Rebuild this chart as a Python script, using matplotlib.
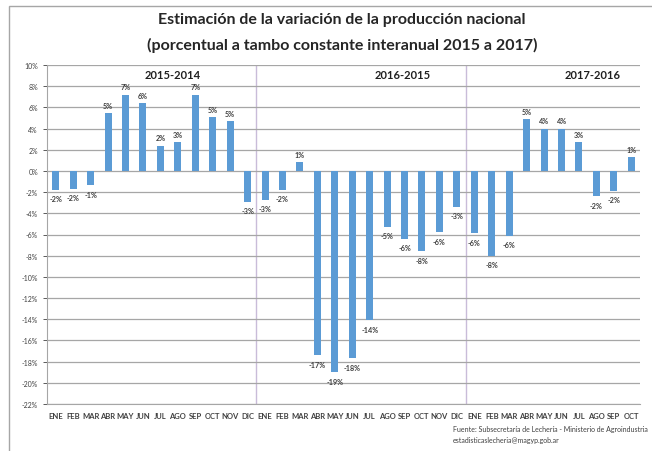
import matplotlib
matplotlib.use("Agg")
import matplotlib.pyplot as plt
from matplotlib.patches import Rectangle

plt.rcParams['font.family'] = ['Lato', 'DejaVu Sans']

meses = ["ENE", "FEB", "MAR", "ABR", "MAY", "JUN", "JUL", "AGO", "SEP", "OCT", "NOV", "DIC"]
# variacion % interanual
v_2015 = [-1.8, -1.7, -1.35, 5.45, 7.2, 6.4, 2.4, 2.7, 7.2, 5.1, 4.7, -2.9]
v_2016 = [-2.7, -1.8, 0.85, -17.4, -19.0, -17.7, -14.1, -5.3, -6.4, -7.6, -5.8, -3.4]
v_2017 = [-5.9, -8.0, -6.1, 4.9, 4.0, 4.0, 2.7, -2.4, -1.9, 1.3]
periodos = ["2015-2014", "2016-2015", "2017-2016"]

valores = v_2015 + v_2016 + v_2017
etiquetas = meses + meses + meses[:len(v_2017)]
x = list(range(len(valores)))

fig = plt.figure(figsize=(6.52, 4.52), dpi=100)
fig.patches.append(Rectangle((9/652, -0.1), 1.2, 1 - 7/452 + 0.1, transform=fig.transFigure,
                             fill=False, edgecolor='#a6a6a6', linewidth=1))

ax = fig.add_axes([47/652, 1 - 405/452, (640 - 47)/652, (405 - 66)/452])
ax.bar(x, valores, width=0.4, color='#5b9bd5', zorder=3)

ax.set_xlim(-0.5, len(valores) - 0.5)
ax.set_ylim(-22, 10)
ax.set_yticks(range(-22, 11, 2))
ax.set_yticklabels([f"{t}%" for t in range(-22, 11, 2)])
ax.set_xticks(x)
ax.set_xticklabels(etiquetas)
ax.tick_params(axis='x', length=0, labelsize=5.5, colors='#404040', pad=6)
ax.tick_params(axis='y', length=3, labelsize=5, colors='#404040', width=0.6)
for lbl in ax.get_xticklabels():
    lbl.set_fontweight('bold')
ax.yaxis.grid(True, color='#a6a6a6', linewidth=0.9, zorder=0)
for s in ['top', 'right']:
    ax.spines[s].set_visible(False)
ax.spines['left'].set_color('#a6a6a6')
ax.spines['bottom'].set_color('#a6a6a6')

# separadores de periodos
for sx in [11.5, 23.5]:
    ax.axvline(sx, color='#c9bcd9', linewidth=1, zorder=1)

# etiquetas de datos
for xi, v in zip(x, valores):
    if v >= 0:
        ax.text(xi, v + 0.4, f"{v:.0f}%", ha='center', va='bottom', fontsize=5.2,
                fontweight='bold', color='#404040')
    else:
        ax.text(xi, v - 0.5, f"{v:.0f}%", ha='center', va='top', fontsize=5.2,
                fontweight='bold', color='#404040')

for px, p in zip([6.7, 19.9, 30.8], periodos):
    ax.text(px, 9.1, p, ha='center', va='center', fontsize=8, fontweight='bold', color='#202020')

fig.text(342/652, 1 - 20/452, "Estimación de la variación de la producción nacional",
         ha='center', va='center', fontsize=11.5, fontweight='bold', color='#262626')
fig.text(342/652, 1 - 45/452, "(porcentual a tambo constante interanual 2015 a 2017)",
         ha='center', va='center', fontsize=11.5, fontweight='bold', color='#262626')

fig.text(453/652, 1 - 430/452, "Fuente: Subsecretaría de Lechería - Ministerio de Agroindustria",
         ha='left', va='center', fontsize=5, color='#404040')
fig.text(453/652, 1 - 441/452, "estadisticaslecheria@magyp.gob.ar",
         ha='left', va='center', fontsize=5, color='#404040')

fig.savefig("out.png", dpi=100)
